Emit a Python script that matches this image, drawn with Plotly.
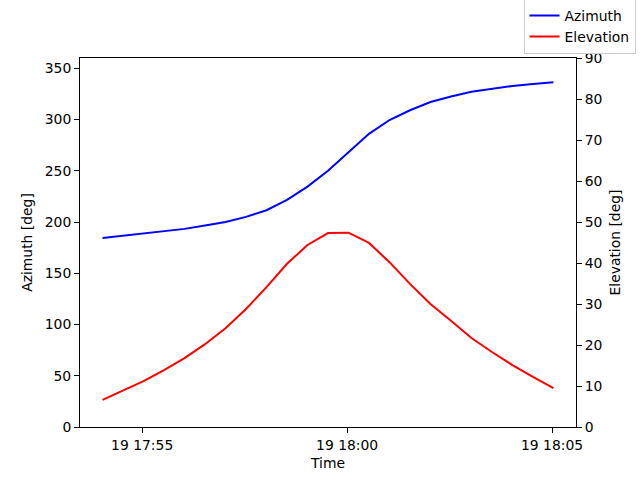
import pandas as pd
import plotly.graph_objects as go

# --------------------------------------------------
# Data (30 s steps)
# --------------------------------------------------
start_time = "2024-03-19 17:54:02"
n_points = 23

azimuth_deg = [
    184.3, 186.5, 188.5, 190.8, 193.3, 196.6, 200.0, 205.0, 211.5, 221.5,
    234.5, 250.0, 268.0, 286.0, 299.5, 309.0, 317.0, 322.5, 327.0, 330.0,
    332.7, 334.6, 336.3,
]

elevation_deg = [
    6.6, 8.8, 11.2, 13.9, 16.8, 20.2, 24.1, 28.8, 34.1, 39.8,
    44.4, 47.3, 47.4, 44.9, 40.2, 34.9, 30.0, 25.9, 21.7, 18.3,
    15.1, 12.2, 9.5,
]

times = pd.date_range(start_time, periods=n_points, freq="30s")

# --------------------------------------------------
# Plot
# --------------------------------------------------
fig = go.Figure()

fig.add_trace(go.Scatter(
    x=times, y=azimuth_deg, mode="lines", name="Azimuth",
    line=dict(color="blue", width=2),
))
fig.add_trace(go.Scatter(
    x=times, y=elevation_deg, mode="lines", name="Elevation",
    line=dict(color="red", width=2), yaxis="y2",
))

font = dict(family="DejaVu Sans", size=13.9, color="black")
axis_common = dict(
    showgrid=False, zeroline=False, showline=True, linecolor="black",
    linewidth=1, ticks="outside", ticklen=5, tickcolor="black",
    tickfont=font,
)

fig.update_layout(
    width=640, height=480,
    margin=dict(l=80, r=64, t=58, b=53, autoexpand=False),
    paper_bgcolor="white", plot_bgcolor="white",
    font=font,
    xaxis=dict(
        **axis_common, mirror=True,
        range=["2024-03-19 17:53:29", "2024-03-19 18:05:35"],
        tick0="2024-03-19 17:55:00", dtick=300000,
        tickformat="%d %H:%M",
        title=dict(text="Time", font=font, standoff=6),
    ),
    yaxis=dict(
        **axis_common, range=[0, 360], dtick=50,
        title=dict(text="Azimuth [deg]", font=font, standoff=8),
    ),
    yaxis2=dict(
        **axis_common, overlaying="y", side="right",
        range=[0, 90], dtick=10,
        title=dict(text="Elevation [deg]", font=font, standoff=8),
    ),
    legend=dict(
        x=1.12, y=1.16, xanchor="right", yanchor="top",
        bgcolor="white", bordercolor="#cccccc", borderwidth=1,
        font=font, tracegroupgap=0, itemwidth=30,
    ),
    showlegend=True,
)

# page margin weg, damit die Figur bei (0, 0) beginnt
fig.write_html(
    "out.html",
    config={"displayModeBar": False},
    post_script="document.body.style.margin='0';",
)
